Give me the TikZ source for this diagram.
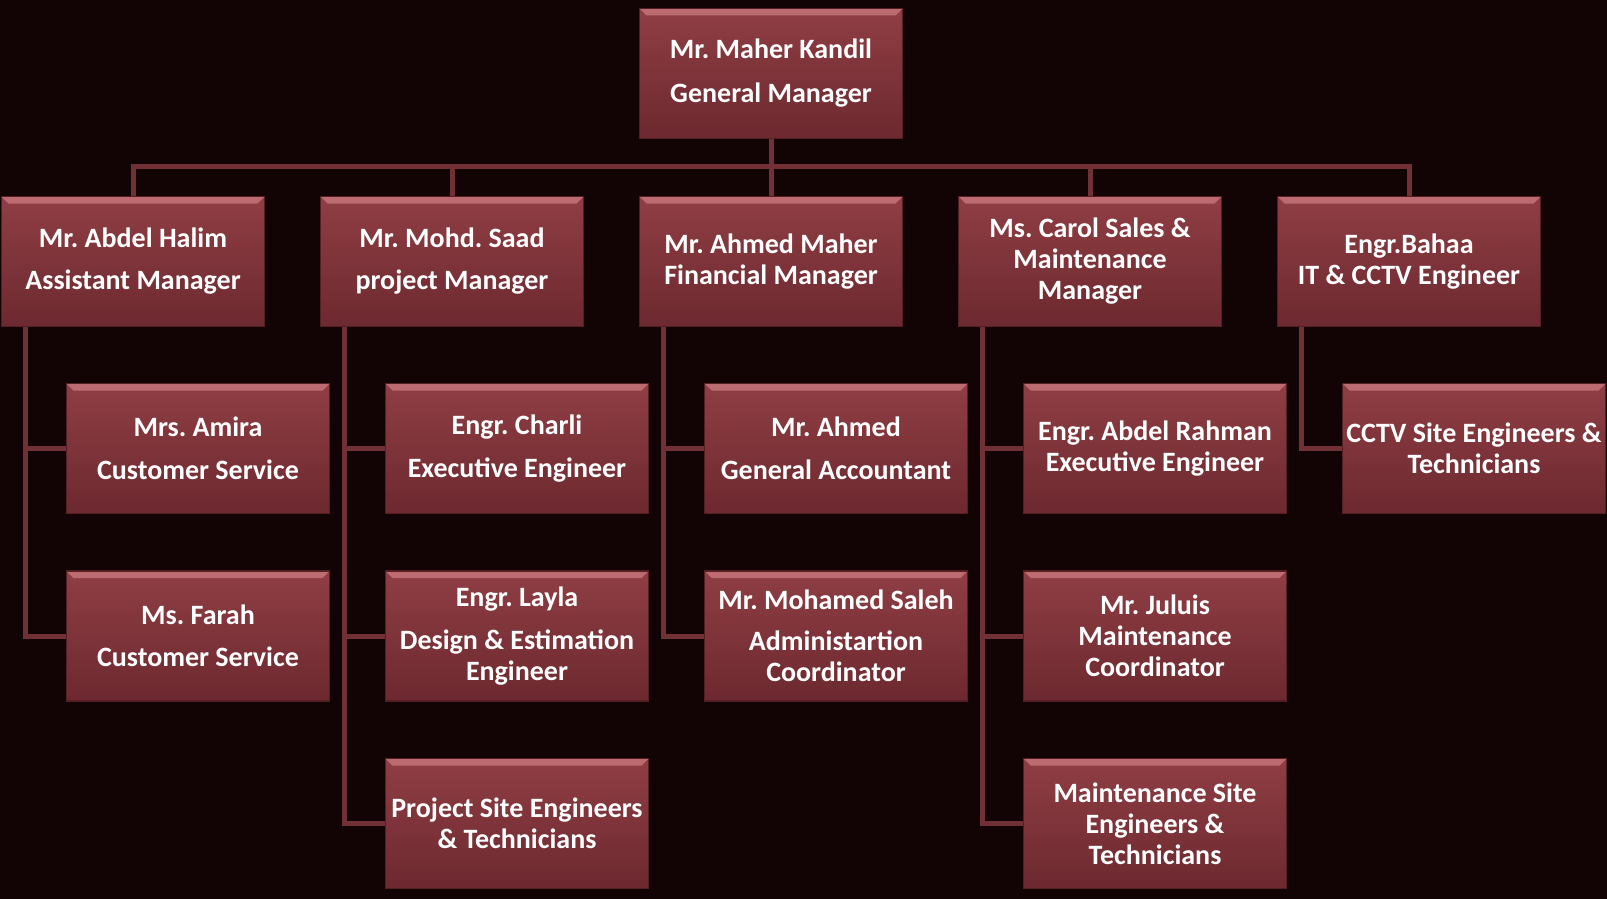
\documentclass[tikz,border=0pt]{standalone}
\usepackage{fontspec}
\setmainfont{Carlito}
\frenchspacing
\usetikzlibrary{positioning}
\pgfdeclarelayer{background}
\pgfsetlayers{background,main}
\definecolor{pagebg}{RGB}{18,3,4}
\definecolor{boxtop}{RGB}{143,62,68}
\definecolor{boxbot}{RGB}{108,41,47}
\definecolor{boxedge}{RGB}{84,30,35}
\definecolor{boxlight}{RGB}{188,108,113}
\definecolor{linkred}{RGB}{112,48,54}
\tikzset{
  post/.style={rectangle, minimum width=263pt, minimum height=130pt, inner sep=0pt,
    align=center, text=white, font=\fontsize{28}{31}\selectfont\bfseries,
    top color=boxtop, bottom color=boxbot, draw=boxedge, line width=1.2pt,
    path picture={\fill[boxlight] (path picture bounding box.north west) --
      (path picture bounding box.north east) --
      ([xshift=-7pt,yshift=-7pt]path picture bounding box.north east) --
      ([xshift=7pt,yshift=-7pt]path picture bounding box.north west) -- cycle;}},
  link/.style={draw=linkred, line width=5pt}
}
\begin{document}
\begin{tikzpicture}[x=1pt,y=-1pt,node distance=187.5pt and 319pt,on grid]
  \useasboundingbox (0,0) rectangle (1607,899);
  % general manager and managers
  \node[post] (gm) at (771,73.5) {Mr. Maher Kandil\\[13pt]General Manager};
  \node[post] (fin) [below=188pt of gm] {Mr. Ahmed Maher\\Financial Manager};
  \node[post] (saad) [left=of fin] {Mr. Mohd. Saad\\[11pt]project Manager};
  \node[post] (halim) [left=of saad] {Mr. Abdel Halim\\[11pt]Assistant Manager};
  \node[post] (carol) [right=of fin] {Ms. Carol Sales \&\\Maintenance\\Manager};
  \node[post] (bahaa) [right=of carol] {Engr.Bahaa\\IT \& CCTV Engineer};
  % staff
  \node[post] (amira) [below right=187pt and 65pt of halim] {Mrs. Amira\\[12pt]Customer Service};
  \node[post] (farah) [below=of amira] {Ms. Farah\\[11pt]Customer Service};
  \node[post] (charli) [below right=187pt and 65pt of saad] {Engr. Charli\\[12pt]Executive Engineer};
  \node[post] (layla) [below=of charli] {Engr. Layla\\[12pt]Design \& Estimation\\Engineer};
  \node[post] (prjsite) [below=of layla] {Project Site Engineers\\\& Technicians};
  \node[post] (ahmed) [below right=187pt and 65pt of fin] {Mr. Ahmed\\[12pt]General Accountant};
  \node[post] (saleh) [below=of ahmed] {Mr. Mohamed Saleh\\[10pt]Administartion\\Coordinator};
  \node[post] (rahman) [below right=187pt and 65pt of carol] {Engr. Abdel Rahman\\Executive Engineer};
  \node[post] (juluis) [below=of rahman] {Mr. Juluis\\Maintenance\\Coordinator};
  \node[post] (mntsite) [below=of juluis] {Maintenance Site\\Engineers \&\\Technicians};
  \node[post] (cctv) [below right=187pt and 65pt of bahaa] {CCTV Site Engineers \&\\Technicians};
  % connectors
  \begin{pgfonlayer}{background}
    \fill[pagebg] (0,0) rectangle (1607,899);
    \coordinate (bus) at ([yshift=-27pt]gm.south);
    \draw[link] (gm.south) -- (bus);
    \draw[link] (halim.north) |- (bus) -| (bahaa.north);
    \foreach \m in {saad,fin,carol}
      \draw[link] (\m.north) -- (\m.north |- bus);
    \foreach \p/\c in {halim/amira,halim/farah,saad/charli,saad/layla,saad/prjsite,
        fin/ahmed,fin/saleh,carol/rahman,carol/juluis,carol/mntsite,bahaa/cctv}
      \draw[link] ([xshift=25pt]\p.south west) |- (\c.west);
  \end{pgfonlayer}
\end{tikzpicture}
\end{document}
